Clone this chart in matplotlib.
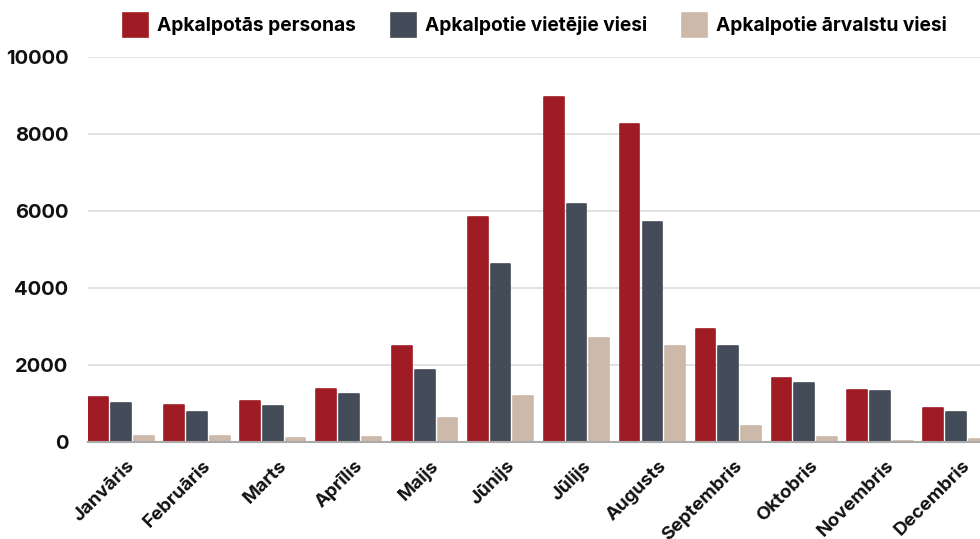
#Monthly served persons bar chart

import matplotlib.pyplot as plt
import numpy as np

months = ["Janvāris", "Februāris", "Marts", "Aprīlis", "Maijs", "Jūnijs",
          "Jūlijs", "Augusts", "Septembris", "Oktobris", "Novembris", "Decembris"]
served_total = [1170, 960, 1065, 1380, 2500, 5850, 8950, 8250, 2940, 1665, 1350, 880]
served_local = [1015, 780, 935, 1250, 1870, 4625, 6180, 5705, 2495, 1530, 1325, 780]
served_foreign = [155, 155, 105, 130, 625, 1200, 2705, 2500, 415, 130, 30, 80]

series_names = ["Apkalpotās personas", "Apkalpotie vietējie viesi", "Apkalpotie ārvalstu viesi"]
colors = ["#a01c24", "#434c58", "#cdb9aa"]

plt.rcParams['font.family'] = ['Inter', 'DejaVu Sans']
plt.rcParams['font.weight'] = 'bold'

fig = plt.figure(figsize=(9.8, 5.39), dpi=100)
ax = fig.add_axes([88/980, 1-442/539, 1-88/980, (442-57)/539])

x = np.arange(len(months))
step = 0.30
width = 0.26
for i, (vals, name, c) in enumerate(zip([served_total, served_local, served_foreign], series_names, colors)):
    ax.bar(x + (i-1)*step, vals, width, color=c, edgecolor=c, linewidth=1.2,
           joinstyle="round", label=name, zorder=3)

#----------Axes styling----------
ax.set_ylim(0, 10000)
ax.set_xlim(-0.435, 11.316)
ax.set_yticks(range(0, 10001, 2000))
ax.yaxis.grid(True, color="#dddddd", linewidth=1.2, zorder=0)
for s in ["top", "right", "left"]:
    ax.spines[s].set_visible(False)
ax.spines["bottom"].set_color("#aaaaaa")
ax.spines["bottom"].set_linewidth(1.5)
ax.spines["bottom"].set_zorder(4)
ax.tick_params(axis="both", length=0, colors="#111111")
ax.tick_params(axis="y", pad=14, labelsize=14.5)
ax.tick_params(axis="x", pad=11, labelsize=13.5)
ax.set_xticks(x + 0.07)
ax.set_xticklabels(months, rotation=45, ha="right", rotation_mode="anchor", fontweight="bold")
for lbl in ax.get_yticklabels():
    lbl.set_fontweight("bold")

fig.legend(loc="center", bbox_to_anchor=(535/980, 1-25/539), ncol=3, frameon=False,
           fontsize=13.8, handlelength=1.3, handleheight=1.6, columnspacing=1.8, handletextpad=0.5)

plt.savefig("out.png", dpi=100)
